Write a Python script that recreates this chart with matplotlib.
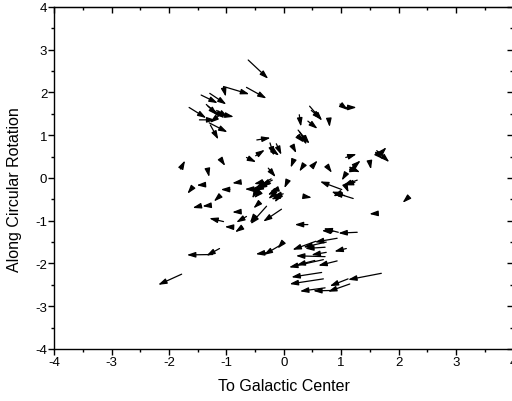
import matplotlib
matplotlib.use("Agg")
import matplotlib.pyplot as plt
from matplotlib.ticker import MultipleLocator

plt.rcParams['font.family'] = ['Liberation Sans', 'DejaVu Sans']

# tail (x0, y0) and head (x1, y1) of each vector
x0 = [-0.62, -0.65, -1.05, -1.05, -1.29, -1.44, -1.65, -1.35, -1.32, -1.20, -1.47, -1.30, -1.28, -1.09, -1.17, -0.47,
      0.45, 0.48, 0.79, 0.27, 0.42, 0.25, 0.28, 0.24, 0.16, 0.98, 1.05,
      1.08, 1.62, 1.65, 1.60, 1.50, 1.22, 1.15, 1.15, 0.77, 0.51, 0.32, 0.16, 1.06, 1.28, 1.24, 1.09, 1.01, 1.21, 1.06, 1.01, 2.15, 1.62, 0.35,
      -0.27, 0.06, -0.22, -0.23, -0.30, -0.36, -0.58, -0.78, -0.94, -1.08, -0.65, -0.49, -0.24, -0.13, -0.19, -1.32, -1.80, -1.62, -1.41, -1.44, -1.28, -1.13,
      -0.13, -0.10, -0.01, -0.07, -0.42, -0.45, -0.30, -0.04, -0.51, -0.65, -0.78, -1.05, -0.88, -0.72, -1.12, -1.24, -1.78, -0.01, -0.07, -0.27,
      0.42, 1.28, 0.95, 0.86, 0.93, 0.56, 0.74, 0.72, 1.09, 0.74, 0.72, 0.69, 0.54, 0.93, 0.66, 0.69, 1.70, 1.12, 1.15, 0.72, 0.89,
      -0.20, -0.15, -0.12, -0.45, -0.50]
y0 = [2.76, 2.12, 2.14, 2.12, 1.98, 1.94, 1.65, 1.72, 1.68, 1.52, 1.36, 1.29, 1.24, 1.50, 1.58, 0.89,
      1.68, 1.58, 1.33, 1.48, 1.33, 1.12, 1.07, 0.99, 0.73, 1.73, 1.65,
      0.48, 0.64, 0.52, 0.60, 0.35, 0.27, 0.25, 0.20, 0.25, 0.29, 0.25, 0.38, 0.05, -0.05, -0.10, -0.22, -0.27, -0.48, -0.41, -0.34, -0.48, -0.83, -0.43,
      0.23, -0.09, -0.02, -0.12, -0.14, -0.09, -0.26, -0.10, -0.27, 0.40, 0.48, 0.52, 0.82, 0.80, 0.64, 0.15, 0.21, -0.27, -0.16, -0.65, -0.64, -0.44,
      -0.34, -0.26, -0.37, -0.41, -0.34, -0.61, -0.66, -0.73, -0.90, -0.90, -0.79, -1.02, -1.15, -1.15, -1.65, -1.79, -2.25, -1.50, -1.58, -1.74,
      -1.09, -1.27, -1.27, -1.25, -1.41, -1.48, -1.50, -1.62, -1.65, -1.74, -1.84, -1.91, -1.93, -1.94, -2.21, -2.36, -2.23, -2.36, -2.48, -2.57, -2.63,
      -0.05, -0.30, -0.45, -0.25, -0.35]
x1 = [-0.27, -0.30, -0.60, -1.01, -1.00, -1.15, -1.35, -1.16, -1.03, -0.87, -1.19, -0.98, -1.14, -1.29, -0.97, -0.23,
      0.67, 0.66, 0.80, 0.30, 0.59, 0.45, 0.40, 0.35, 0.22, 1.12, 1.27,
      1.27, 1.84, 1.79, 1.73, 1.52, 1.34, 1.33, 1.31, 0.84, 0.59, 0.27, 0.12, 1.01, 1.03, 1.06, 1.13, 0.63, 0.83, 0.86, 0.86, 2.07, 1.49, 0.49,
      -0.14, 0.01, -0.48, -0.51, -0.45, -0.52, -0.68, -0.90, -1.10, -1.02, -0.48, -0.33, -0.17, -0.04, -0.08, -1.30, -1.72, -1.68, -1.52, -1.59, -1.42, -1.22,
      -0.27, -0.24, -0.19, -0.16, -0.52, -0.53, -0.58, -0.36, -0.59, -0.83, -0.90, -1.30, -1.03, -0.85, -1.35, -1.69, -2.19, -0.11, -0.35, -0.49,
      0.19, 0.95, 0.69, 0.66, 0.54, 0.15, 0.34, 0.37, 0.88, 0.48, 0.21, 0.09, 0.22, 0.60, 0.13, 0.10, 1.12, 0.80, 0.77, 0.28, 0.51,
      -0.40, -0.28, -0.22, -0.60, -0.55]
y1 = [2.32, 1.86, 1.96, 1.90, 1.72, 1.75, 1.40, 1.47, 1.40, 1.43, 1.36, 1.07, 0.90, 1.29, 1.42, 0.94,
      1.34, 1.38, 1.19, 1.20, 1.15, 0.80, 0.78, 0.83, 0.58, 1.59, 1.65,
      0.56, 0.37, 0.72, 0.44, 0.20, 0.41, 0.13, 0.16, 0.12, 0.41, 0.15, 0.24, -0.06, -0.18, -0.16, -0.34, -0.08, -0.32, -0.36, -0.43, -0.58, -0.84, -0.46,
      0.02, -0.24, -0.22, -0.30, -0.26, -0.14, -0.26, -0.12, -0.27, 0.28, 0.37, 0.66, 0.52, 0.54, 0.52, 0.02, 0.41, -0.37, -0.17, -0.70, -0.66, -0.55,
      -0.49, -0.32, -0.45, -0.57, -0.47, -0.71, -1.08, -1.02, -1.05, -1.04, -0.80, -0.94, -1.14, -1.27, -1.82, -1.80, -2.50, -1.65, -1.80, -1.78,
      -1.09, -1.29, -1.18, -1.23, -1.50, -1.68, -1.62, -1.65, -1.72, -1.80, -1.82, -2.09, -2.04, -2.05, -2.32, -2.48, -2.38, -2.53, -2.66, -2.65, -2.64,
      -0.18, -0.40, -0.50, -0.28, -0.48]

ticks = [-4, -3, -2, -1, 0, 1, 2, 3, 4]

fig = plt.figure(figsize=(5.12, 4.02), dpi=100)
ax = fig.add_axes([0.106, 0.1294, 0.8965, 0.8507])

for a, b, c, d in zip(x0, y0, x1, y1):
    ax.annotate('', xy=(c, d), xytext=(a, b), xycoords='data', textcoords='data',
                arrowprops=dict(arrowstyle='-|>,head_length=0.5,head_width=0.16',
                                color='black', lw=0.9, shrinkA=0, shrinkB=0))

ax.set_xlim(-4, 4)
ax.set_ylim(-4, 4)
ax.set_xticks(ticks)
ax.set_yticks(ticks)
ax.set_xticklabels([str(t) for t in ticks])
ax.set_yticklabels([str(t) for t in ticks])
ax.xaxis.set_minor_locator(MultipleLocator(0.5))
ax.yaxis.set_minor_locator(MultipleLocator(0.5))
ax.tick_params(which='both', direction='out', top=False, right=False, labelsize=9.5, pad=1)
ax.tick_params(which='major', length=4, width=1)
ax.tick_params(which='minor', length=2.5, width=1)

# inward ticks on top and right like the reference
axt = ax.secondary_xaxis('top')
axt.set_xticks(ticks)
axt.xaxis.set_minor_locator(MultipleLocator(0.5))
axt.tick_params(which='both', direction='in', labeltop=False, width=1)
axt.tick_params(which='major', length=4)
axt.tick_params(which='minor', length=2.5)
axr = ax.secondary_yaxis('right')
axr.set_yticks(ticks)
axr.yaxis.set_minor_locator(MultipleLocator(0.5))
axr.tick_params(which='both', direction='in', labelright=False, width=1)
axr.tick_params(which='major', length=4)
axr.tick_params(which='minor', length=2.5)

for s in ax.spines.values():
    s.set_linewidth(1)

ax.set_xlabel('To Galactic Center', fontsize=11.5, labelpad=7)
ax.set_ylabel('Along Circular Rotation', fontsize=11.5)
ax.yaxis.set_label_coords(-0.07, 0.47)

fig.savefig('out.png', dpi=100)
